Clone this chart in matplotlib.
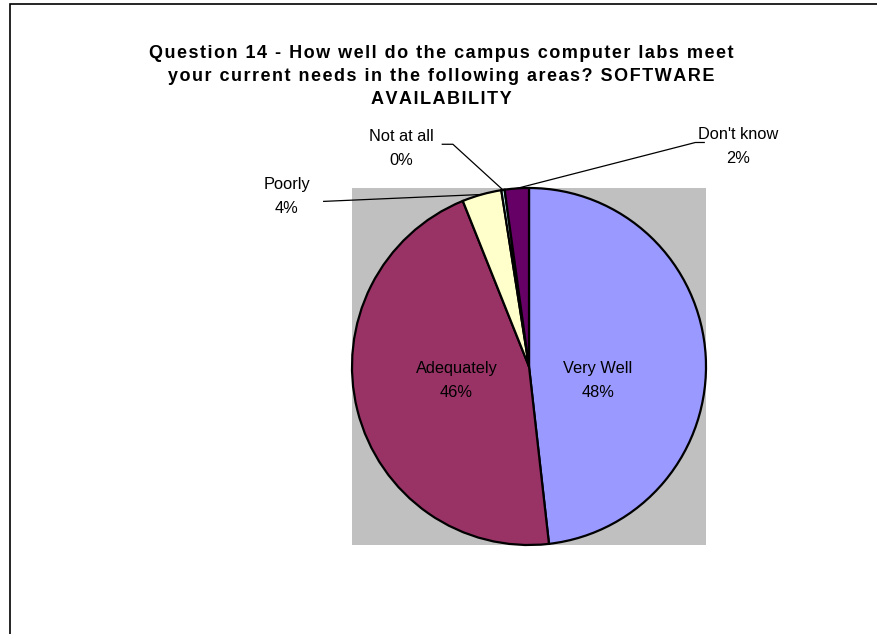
import matplotlib
matplotlib.use("Agg")
import matplotlib.pyplot as plt
import matplotlib.patches as mpatches
import numpy as np

plt.rcParams['font.family'] = ['Liberation Sans', 'DejaVu Sans']

categories = ["Very Well", "Adequately", "Poorly", "Not at all", "Don't know"]
values = [48.2, 45.7, 3.6, 0.3, 2.2]
colors = ["#9999FF", "#993366", "#FFFFCC", "#CCFFFF", "#660066"]
title_lines = ["Question 14 - How well do the campus computer labs meet",
               "your current needs in the following areas? SOFTWARE",
               "AVAILABILITY"]

W, H = 877, 634
fig = plt.figure(figsize=(W / 100, H / 100), dpi=100)
fig.patch.set_facecolor("white")

# figure border (left/top visible)
fig.patches.append(mpatches.Rectangle((10 / W, -0.1), 1.2, 1 - 4 / H + 0.1,
                                      transform=fig.transFigure, fill=False,
                                      edgecolor="black", linewidth=1.2))

ax = fig.add_axes([352 / W, 1 - 545 / H, 354 / W, 357 / H])
wedges, _ = ax.pie(values, colors=colors, startangle=90, counterclock=False,
                   radius=1.0, frame=True,
                   wedgeprops=dict(edgecolor="black", linewidth=1.6))
ax.set_facecolor("#C0C0C0")
ax.patch.set_visible(True)
ax.set_xlim(-1.0, 1.0)
ax.set_ylim(-1.0, 1.0)
ax.set_aspect("auto")
for s in ax.spines.values():
    s.set_visible(False)
ax.set_xticks([])
ax.set_yticks([])

total = sum(values)
labels = [f"{c}\n{v / total * 100:.0f}%" for c, v in zip(categories, values)]

fs = 11.8
ls = 1.75
inside_pos = {0: (0.39, -0.08), 1: (-0.41, -0.08)}
for i, (x, y) in inside_pos.items():
    ax.text(x, y, labels[i], ha="center", va="center", fontsize=fs, color="black",
            linespacing=ls)

def edge_point(w):
    th = np.deg2rad((w.theta1 + w.theta2) / 2)
    return np.cos(th), np.sin(th)

outside = {
    2: dict(text=(-1.37, 0.95), line=[(-1.16, 0.925)]),
    3: dict(text=(-0.72, 1.22), line=[(-0.49, 1.245), (-0.43, 1.245)]),
    4: dict(text=(1.18, 1.235), line=[(0.99, 1.255), (0.94, 1.255)]),
}
for i, d in outside.items():
    tx, ty = d["text"]
    ax.text(tx, ty, labels[i], ha="center", va="center", fontsize=fs,
            color="black", linespacing=ls, clip_on=False)
    ex, ey = edge_point(wedges[i])
    pts = d["line"] + [(ex, ey)]
    ax.plot([p[0] for p in pts], [p[1] for p in pts], color="black",
            linewidth=0.9, clip_on=False)

sp = "\u200a"
title = "\n".join(sp.join(list(line)) for line in title_lines)
fig.text(441 / W, 1 - 45 / H, title, ha="center", va="top", fontsize=13.0,
         fontweight="bold", linespacing=1.47)

fig.savefig("out.png", dpi=100)
